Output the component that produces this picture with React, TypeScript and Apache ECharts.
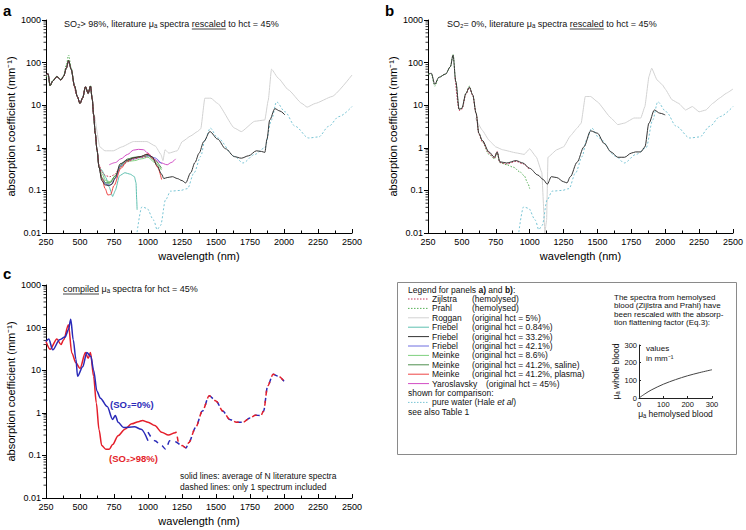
import React, { useEffect, useRef } from 'react';
import * as echarts from 'echarts';

const FONT = '"Liberation Sans", Arial, Helvetica, sans-serif';

// ---------- shared axis ticks ----------
const wlTicks = [250, 500, 750, 1000, 1250, 1500, 1750, 2000, 2250, 2500];
const muDecades = [0.01, 0.1, 1, 10, 100, 1000];

// ---------- panel a : SO2 > 98% ----------
const oxyVisWl = [250, 265, 280, 300, 330, 360, 380, 400, 416, 435, 460, 480, 500, 520, 540, 560, 577, 590, 600, 612, 625, 640];
const oxyVisMu = [50, 55, 29, 37, 47, 39, 48, 75, 112, 70, 28, 16, 11, 15, 27, 19, 28, 14, 6, 2.2, 0.9, 0.35];

const friebel332OxyWl = [660, 685, 710, 735, 760, 795, 850, 893, 940, 992, 1030, 1067, 1100, 1116, 1141, 1180, 1215, 1250, 1277, 1314, 1345, 1376, 1410, 1455, 1512, 1570, 1636, 1686, 1740, 1797, 1835, 1859, 1875, 1895, 1933, 1970, 2007];
const friebel332OxyMu = [0.17, 0.135, 0.13, 0.14, 0.2, 0.42, 0.52, 0.58, 0.62, 0.7, 0.62, 0.38, 0.24, 0.19, 0.2, 0.21, 0.19, 0.17, 0.15, 0.26, 0.45, 0.75, 1.4, 2.4, 1.6, 0.95, 0.62, 0.57, 0.65, 0.85, 0.82, 0.78, 1.6, 4.5, 8.3, 7.3, 5.9];

const friebel421OxyWl = [660, 690, 720, 760, 800, 850, 900, 950, 1000, 1050, 1100];
const friebel421OxyMu = [0.2, 0.14, 0.13, 0.19, 0.38, 0.5, 0.55, 0.6, 0.65, 0.58, 0.42];

const meinke86OxyWl = [660, 690, 720, 760, 800, 850, 900, 950, 1000, 1050, 1100];
const meinke86OxyMu = [0.25, 0.17, 0.16, 0.22, 0.36, 0.48, 0.5, 0.55, 0.6, 0.45, 0.3];

const meinkeSalineOxyWl = [660, 690, 720, 760, 800, 850, 900, 950, 1000, 1050, 1100];
const meinkeSalineOxyMu = [0.19, 0.15, 0.15, 0.22, 0.4, 0.55, 0.6, 0.62, 0.66, 0.5, 0.33];

const meinkePlasmaOxyWl = [660, 685, 705, 725, 750, 800, 850, 900, 950, 1000, 1040, 1070, 1100];
const meinkePlasmaOxyMu = [0.2, 0.11, 0.078, 0.08, 0.13, 0.33, 0.5, 0.58, 0.62, 0.72, 0.55, 0.35, 0.18];

const friebel084OxyWl = [660, 690, 715, 740, 760, 790, 830, 870, 900, 912, 917, 920];
const friebel084OxyMu = [0.3, 0.2, 0.12, 0.072, 0.1, 0.22, 0.26, 0.24, 0.21, 0.15, 0.06, 0.035];

const yaroslavskyOxyWl = [715, 760, 800, 850, 893, 930, 967, 1000, 1042, 1090, 1141, 1170, 1203];
const yaroslavskyOxyMu = [0.4, 0.45, 0.55, 0.7, 0.88, 0.92, 0.9, 0.75, 0.55, 0.45, 0.4, 0.45, 0.55];

const zijlstraOxyWl = [450, 480, 500, 520, 540, 560, 577, 590, 600, 612, 625, 640, 660, 690, 720, 750, 800, 850, 900, 950, 1000];
const zijlstraOxyMu = [38, 16, 11, 15, 27, 19, 28, 14, 6, 2.2, 0.9, 0.4, 0.27, 0.22, 0.21, 0.23, 0.36, 0.47, 0.55, 0.6, 0.62];

const prahlOxyWl = [250, 265, 280, 300, 330, 360, 380, 400, 416, 435, 460, 480, 500, 520, 540, 560, 577, 590, 600, 612, 625, 640, 660, 690, 720, 760, 800, 850, 900, 950, 1000];
const prahlOxyMu = [45, 50, 28, 38, 48, 40, 50, 90, 150, 75, 28, 16, 11, 15, 27, 19, 29, 14, 6, 2.2, 0.9, 0.35, 0.2, 0.15, 0.15, 0.22, 0.38, 0.5, 0.58, 0.62, 0.65];

const rogganOxyWl = [609, 646, 683, 745, 807, 893, 992, 1054, 1095, 1110, 1125, 1153, 1215, 1252, 1314, 1363, 1388, 1418, 1463, 1512, 1636, 1686, 1785, 1859, 1884, 1908, 1958, 2032, 2131, 2170, 2230, 2354, 2500];
const rogganOxyMu = [5.4, 1.05, 0.85, 0.85, 1.05, 1.4, 1.4, 1.1, 0.7, 0.5, 0.9, 0.75, 0.85, 1.4, 1.9, 2.4, 2.8, 14.6, 14.6, 11, 2.9, 2.4, 4.2, 4.5, 13, 70, 43, 23, 11, 9, 11, 16, 51];

// pure water (Hale et al)
const waterWl = [920, 955, 992, 1042, 1067, 1092, 1129, 1166, 1240, 1290, 1339, 1388, 1418, 1458, 1512, 1636, 1698, 1785, 1859, 1908, 1945, 2007, 2082, 2181, 2255, 2329, 2403, 2500];
const waterMu = [0.0105, 0.041, 0.038, 0.02, 0.012, 0.015, 0.06, 0.096, 0.1, 0.11, 0.26, 0.63, 1.5, 2.9, 1.7, 0.63, 0.44, 0.7, 1.0, 4.5, 12, 7, 3.2, 1.7, 1.8, 3.2, 5.4, 9.3];

// ---------- panel b : SO2 = 0% ----------
const friebelDeoxyWl = [250, 275, 300, 330, 380, 415, 435, 455, 480, 500, 530, 555, 580, 605, 625, 650, 700, 740, 760, 780, 830, 900, 950, 1000, 1060, 1100, 1130, 1160, 1200, 1250, 1275, 1300, 1350, 1400, 1450, 1500, 1550, 1600, 1650, 1700, 1750, 1780, 1820, 1850, 1880, 1920, 1960, 2000];
const friebelDeoxyMu = [54, 56, 31, 45, 54, 80, 150, 36, 8, 8.5, 19, 26.5, 17.5, 6.5, 2.2, 1.5, 0.8, 0.6, 0.8, 0.47, 0.44, 0.5, 0.44, 0.33, 0.23, 0.18, 0.14, 0.21, 0.2, 0.16, 0.15, 0.21, 0.46, 1.05, 2.5, 2.2, 1.26, 0.8, 0.6, 0.6, 0.75, 0.8, 0.8, 1.05, 3.8, 7.7, 6.5, 5.9];

const prahlDeoxyWl = [250, 275, 300, 330, 380, 415, 435, 455, 480, 500, 530, 555, 580, 605, 625, 650, 700, 740, 760, 780, 830, 880, 930, 960, 985, 1000];
const prahlDeoxyMu = [54, 52, 28, 45, 54, 80, 155, 36, 8, 8.5, 19, 28, 17.5, 6.5, 2.2, 1.4, 0.7, 0.55, 0.75, 0.45, 0.4, 0.35, 0.27, 0.22, 0.15, 0.11];

const zijlstraDeoxyWl = [450, 480, 500, 530, 555, 580, 605, 625, 650, 700, 740, 760, 780, 830, 900, 950, 1000];
const zijlstraDeoxyMu = [45, 7.5, 8, 18, 26, 17, 6.3, 2.1, 1.4, 0.75, 0.57, 0.82, 0.45, 0.42, 0.48, 0.42, 0.3];

const rogganDeoxyWl = [600, 650, 700, 750, 800, 900, 960, 1000, 1050, 1090, 1105, 1112, 1125, 1135, 1200, 1250, 1300, 1350, 1380, 1410, 1450, 1500, 1600, 1650, 1700, 1770, 1820, 1850, 1880, 1900, 1940, 1980, 2000, 2050, 2100, 2150, 2200, 2250, 2300, 2350, 2400, 2450, 2500];
const rogganDeoxyMu = [5, 2.6, 1.5, 1.05, 0.9, 0.76, 0.7, 0.95, 0.6, 0.26, 0.03, 0.0101, 0.02, 0.6, 0.9, 1.05, 1.9, 2.9, 3.8, 16, 16, 12, 5, 3.5, 3.8, 5, 5, 9.3, 47, 74, 39, 30, 24, 13.4, 11, 7.7, 9.3, 7, 7.7, 11, 14.6, 19, 24];

// ---------- panel c : compiled spectra ----------
const compDeoxySolidWl = [250, 270, 300, 350, 390, 415, 432, 450, 470, 482, 520, 550, 580, 600, 625, 650, 700, 740, 760, 780, 820, 900, 950, 1000];
const compDeoxySolidMu = [47, 54, 30, 52, 60, 89, 158, 52, 18, 7.2, 12, 26, 21, 10, 3.2, 2.2, 1.4, 0.7, 0.87, 0.6, 0.45, 0.47, 0.41, 0.22];
const compDeoxyDashWl = [1000, 1050, 1100, 1130, 1160, 1200, 1250, 1280, 1300, 1350, 1400, 1450, 1500, 1550, 1600, 1650, 1700, 1750, 1790, 1830, 1850, 1880, 1920, 1960, 2000];
const compDeoxyDashMu = [0.35, 0.22, 0.17, 0.14, 0.22, 0.21, 0.17, 0.15, 0.2, 0.45, 1.1, 2.5, 1.9, 1.1, 0.7, 0.6, 0.6, 0.76, 0.88, 0.86, 1.1, 4.3, 8, 7.2, 5.5];
const compOxySolidWl = [250, 280, 330, 360, 380, 415, 440, 470, 500, 540, 560, 577, 600, 620, 640, 660, 690, 715, 740, 780, 830, 880, 930, 960, 1000, 1050, 1100, 1150, 1200, 1210];
const compOxySolidMu = [47, 31, 54, 40, 52, 116, 25, 15, 11, 26, 19, 26, 7.2, 1.7, 0.4, 0.17, 0.14, 0.14, 0.18, 0.29, 0.41, 0.55, 0.62, 0.66, 0.6, 0.5, 0.35, 0.3, 0.34, 0.36];
const compOxyDashWl = [1210, 1225, 1250, 1280, 1300, 1350, 1400, 1450, 1500, 1550, 1600, 1650, 1700, 1750, 1790, 1830, 1850, 1880, 1920, 1960, 2000];
const compOxyDashMu = [0.36, 0.2, 0.17, 0.15, 0.2, 0.45, 1.1, 2.5, 1.9, 1.1, 0.7, 0.6, 0.6, 0.76, 0.88, 0.86, 1.1, 4.3, 8, 7.2, 5.5];

// ---------- inset : absorption flattening ----------
const insetHemolysed = [0, 25, 50, 100, 150, 200, 250, 300];
const insetWhole = [0, 24, 45, 78, 104, 126, 144, 160];
const insetTicks = [0, 100, 200, 300];

// ---------- legend ----------
const legendNames = ['Zijlstra', 'Prahl', 'Roggan', 'Friebel', 'Friebel', 'Friebel', 'Meinke', 'Meinke', 'Meinke', 'Yaroslavsky'];
const legendNotes = ['(hemolysed)', '(hemolysed)', '(original hct = 5%)', '(original hct = 0.84%)', '(original hct = 33.2%)', '(original hct = 42.1%)', '(original hct = 8.6%)', '(original hct = 41.2%, saline)', '(original hct = 41.2%, plasma)', '(original hct = 45%)'];
const noteLines = ['The spectra from hemolysed', 'blood (Zijlstra and Prahl) have', 'been rescaled with the absorp-', 'tion flattening factor (Eq.3):'];

const C = {
  zijlstra: '#c8365a',
  prahl: '#58b058',
  roggan: '#d2d2d2',
  friebel084: '#5ec0b0',
  friebel332: '#333333',
  friebel421: '#6f6fe0',
  meinke86: '#7fd07f',
  meinkeSaline: '#4f8f4f',
  meinkePlasma: '#ee4444',
  yaroslavsky: '#d24cc4',
  water: '#78c4d4',
  compBlue: '#2a2ab8',
  compRed: '#e41e2a',
};
const TEXT = '#111111';
const legendColors = [C.zijlstra, C.prahl, C.roggan, C.friebel084, C.friebel332, C.friebel421, C.meinke86, C.meinkeSaline, C.meinkePlasma, C.yaroslavsky];
const legendDotted = [true, true, false, false, false, false, false, false, false, false];

const zip = (wl: number[], mu: number[]) => wl.map((w, i) => [w, mu[i]]);

function measure(text: string, size: number, weight = 'normal') {
  const c = document.createElement('canvas').getContext('2d');
  if (!c) return text.length * size * 0.5;
  c.font = `${weight} ${size}px ${FONT}`;
  return c.measureText(text).width;
}

function lineSeries(grid: number, wl: number[], mu: number[], color: string, opt: any = {}) {
  return {
    type: 'line',
    xAxisIndex: grid,
    yAxisIndex: grid,
    data: zip(wl, mu),
    symbol: 'none',
    showSymbol: false,
    smooth: opt.smooth ?? 0.3,
    smoothMonotone: 'x',
    silent: true,
    clip: true,
    z: opt.z ?? 2,
    lineStyle: { color, width: opt.width ?? 1, type: opt.type ?? 'solid', dashOffset: opt.dashOffset ?? 0 },
  };
}

function minorTickSeries(grid: number) {
  const vals: number[][] = [];
  for (let d = -2; d < 3; d++) {
    for (let k = 2; k < 10; k++) vals.push([250, k * Math.pow(10, d)]);
  }
  return {
    type: 'custom',
    xAxisIndex: grid,
    yAxisIndex: grid,
    data: vals,
    silent: true,
    clip: false,
    renderItem: (_p: any, api: any) => {
      const pt = api.coord([api.value(0), api.value(1)]);
      return {
        type: 'line',
        shape: { x1: pt[0] - 2.5, y1: pt[1], x2: pt[0], y2: pt[1] },
        style: { stroke: '#000', lineWidth: 0.8 },
      };
    },
  };
}

function mainX(grid: number) {
  return {
    type: 'value',
    gridIndex: grid,
    min: 250,
    max: 2500,
    interval: 250,
    name: 'wavelength (nm)',
    nameLocation: 'middle',
    nameGap: 17,
    nameTextStyle: { fontFamily: FONT, fontSize: 11, color: '#000' },
    axisLine: { lineStyle: { color: '#000', width: 1 } },
    axisTick: { inside: true, length: 4, lineStyle: { color: '#000' } },
    minorTick: { show: true, splitNumber: 2, length: 2.5, lineStyle: { color: '#000' } },
    splitLine: { show: false },
    axisLabel: {
      fontFamily: FONT, fontSize: 9, color: '#000', margin: 4,
      formatter: (v: number) => (wlTicks.includes(v) ? String(v) : ''),
    },
  };
}

function mainY(grid: number) {
  return {
    type: 'log',
    gridIndex: grid,
    logBase: 10,
    min: muDecades[0],
    max: muDecades[muDecades.length - 1],
    splitNumber: 5,
    name: 'absorption coefficient (mm⁻¹)',
    nameLocation: 'middle',
    nameGap: 30,
    nameTextStyle: { fontFamily: FONT, fontSize: 11, color: '#000' },
    axisLine: { show: true, lineStyle: { color: '#000', width: 1 } },
    axisTick: { show: true, inside: false, length: 4, lineStyle: { color: '#000' } },
    splitLine: { show: false },
    axisLabel: {
      fontFamily: FONT, fontSize: 9, color: '#000', margin: 5,
      formatter: (v: number) => {
        const m = muDecades.find((d) => Math.abs(Math.log10(d) - Math.log10(v)) < 1e-6);
        return m === undefined ? '' : String(m);
      },
    },
  };
}

function titleWithUnderline(x: number, y: number, pre: string, under: string, post: string, size: number) {
  const full = pre + under + post;
  const x0 = x + measure(pre, size);
  const x1 = x0 + measure(under, size);
  return [
    { type: 'text', x, y, z: 20, style: { text: full, font: `${size}px ${FONT}`, fill: TEXT, verticalAlign: 'middle' } },
    { type: 'line', shape: { x1: x0, y1: y + 5, x2: x1, y2: y + 5 }, style: { stroke: TEXT, lineWidth: 0.8 } },
  ];
}

function txt(x: number, y: number, text: string, size: number) {
  return {
    type: 'text', x, y, z: 20,
    style: { text, font: `${size}px ${FONT}`, fill: TEXT, verticalAlign: 'middle' },
  };
}

export default function App() {
  const ref = useRef<HTMLDivElement>(null);
  useEffect(() => {
    if (!ref.current) return;
    document.body.style.margin = '0';
    const chart = echarts.init(ref.current, undefined, { renderer: 'svg' });

    const series: any[] = [
      // panel a
      lineSeries(0, rogganOxyWl, rogganOxyMu, C.roggan, { smooth: 0.15 }),
      lineSeries(0, waterWl, waterMu, C.water, { type: [2, 2] }),
      lineSeries(0, oxyVisWl.concat(friebel084OxyWl), oxyVisMu.concat(friebel084OxyMu), C.friebel084, { smooth: 0.15 }),
      lineSeries(0, yaroslavskyOxyWl, yaroslavskyOxyMu, C.yaroslavsky),
      lineSeries(0, oxyVisWl.concat(meinke86OxyWl), oxyVisMu.concat(meinke86OxyMu), C.meinke86),
      lineSeries(0, oxyVisWl.concat(meinkeSalineOxyWl), oxyVisMu.concat(meinkeSalineOxyMu), C.meinkeSaline),
      lineSeries(0, oxyVisWl.concat(friebel421OxyWl), oxyVisMu.concat(friebel421OxyMu), C.friebel421),
      lineSeries(0, oxyVisWl.concat(meinkePlasmaOxyWl), oxyVisMu.concat(meinkePlasmaOxyMu), C.meinkePlasma),
      lineSeries(0, prahlOxyWl, prahlOxyMu, C.prahl, { type: [1.5, 1.5] }),
      lineSeries(0, zijlstraOxyWl, zijlstraOxyMu, C.zijlstra, { type: [1.5, 1.5] }),
      lineSeries(0, oxyVisWl.concat(friebel332OxyWl), oxyVisMu.concat(friebel332OxyMu), C.friebel332, { z: 3 }),
      minorTickSeries(0),
      // panel b
      lineSeries(1, rogganDeoxyWl, rogganDeoxyMu, C.roggan, { smooth: 0.1 }),
      lineSeries(1, waterWl, waterMu, C.water, { type: [2, 2] }),
      lineSeries(1, prahlDeoxyWl, prahlDeoxyMu, C.prahl, { type: [1.5, 1.5] }),
      lineSeries(1, zijlstraDeoxyWl, zijlstraDeoxyMu, C.zijlstra, { type: [1.5, 1.5] }),
      lineSeries(1, friebelDeoxyWl, friebelDeoxyMu, C.friebel332, { z: 3 }),
      minorTickSeries(1),
      // panel c
      lineSeries(2, compOxySolidWl, compOxySolidMu, C.compRed, { width: 1.5 }),
      lineSeries(2, compDeoxySolidWl, compDeoxySolidMu, C.compBlue, { width: 1.5 }),
      lineSeries(2, compDeoxyDashWl, compDeoxyDashMu, C.compBlue, { width: 1.5, type: [5, 5] }),
      lineSeries(2, compOxyDashWl, compOxyDashMu, C.compRed, { width: 1.5, type: [5, 5], dashOffset: 5 }),
      minorTickSeries(2),
      // inset
      {
        type: 'line', xAxisIndex: 3, yAxisIndex: 3, data: zip(insetHemolysed, insetWhole),
        symbol: 'none', smooth: 0.3, silent: true, lineStyle: { color: '#444', width: 1 },
      },
    ];

    // legend: box and sample lines first, all texts afterwards
    const FS = 8.5;
    const headerY = 289.5;
    const legendTop = 299;
    const rowH = 9.4;
    const legendShapes: any[] = [
      { type: 'rect', shape: { x: 397.5, y: 282.5, width: 339, height: 172 }, style: { fill: '#fff', stroke: '#8a8a8a', lineWidth: 1 }, z: 0 },
    ];
    const legendTexts: any[] = [
      {
        type: 'text', x: 408, y: headerY, z: 20,
        style: {
          text: '{n|Legend for panels }{b|a)}{n| and }{b|b)}{n|:}',
          verticalAlign: 'middle', fill: TEXT,
          rich: {
            n: { fontFamily: FONT, fontSize: FS, fill: TEXT },
            b: { fontFamily: FONT, fontSize: FS, fontWeight: 'bold', fill: TEXT },
          },
        },
      },
    ];
    legendNames.forEach((nm, i) => {
      const y = legendTop + i * rowH;
      legendShapes.push({
        type: 'line', z: 5, shape: { x1: 408, y1: y, x2: 429, y2: y },
        style: { stroke: legendColors[i], lineWidth: 1, lineDash: legendDotted[i] ? [1.5, 1.5] : null },
      });
      legendTexts.push(txt(432, y, nm, FS));
      legendTexts.push(txt(i === 9 ? 486 : 472, y, legendNotes[i], FS));
    });
    const yCmp = legendTop + 10 * rowH;
    legendTexts.push(txt(408, yCmp, 'shown for comparison:', FS));
    legendShapes.push({ type: 'line', z: 5, shape: { x1: 408, y1: yCmp + rowH, x2: 429, y2: yCmp + rowH }, style: { stroke: C.water, lineWidth: 1, lineDash: [1.5, 1.5] } });
    legendTexts.push({
      type: 'text', x: 432, y: yCmp + rowH, z: 20,
      style: {
        text: '{n|pure water (Hale }{i|et al}{n|)}', verticalAlign: 'middle', fill: TEXT,
        rich: {
          n: { fontFamily: FONT, fontSize: FS, fill: TEXT },
          i: { fontFamily: FONT, fontSize: FS, fontStyle: 'italic', fill: TEXT },
        },
      },
    });
    legendTexts.push(txt(408, yCmp + 2 * rowH, 'see also Table 1', FS));

    // inset note
    noteLines.forEach((t, i) => {
      legendTexts.push(txt(614, 297 + i * 8.6, t, 8));
    });
    legendTexts.push(txt(646, 348, 'values', 8));
    legendTexts.push(txt(646, 358, 'in mm⁻¹', 8));

    const graphics: any[] = [
      ...legendShapes,
      ...legendTexts,
      { type: 'text', x: 3, y: 10, style: { text: 'a', font: `bold 15px ${FONT}`, fill: '#000', verticalAlign: 'middle' } },
      { type: 'text', x: 385, y: 10, style: { text: 'b', font: `bold 15px ${FONT}`, fill: '#000', verticalAlign: 'middle' } },
      { type: 'text', x: 3, y: 273, style: { text: 'c', font: `bold 15px ${FONT}`, fill: '#000', verticalAlign: 'middle' } },
      ...titleWithUnderline(64, 24, 'SO₂> 98%, literature μₐ spectra ', 'rescaled', ' to hct = 45%', 9),
      ...titleWithUnderline(447, 24, 'SO₂= 0%, literature μₐ spectra ', 'rescaled', ' to hct = 45%', 9),
      ...titleWithUnderline(63, 289, '', 'compiled', ' μₐ spectra for hct = 45%', 9),
      { type: 'text', x: 110, y: 404, style: { text: '(SO₂=0%)', font: `bold 9.5px ${FONT}`, fill: C.compBlue, verticalAlign: 'middle' } },
      { type: 'text', x: 109, y: 458, style: { text: '(SO₂>98%)', font: `bold 9.5px ${FONT}`, fill: C.compRed, verticalAlign: 'middle' } },
      txt(180, 475.5, 'solid lines: average of N literature spectra', 8.5),
      txt(180, 487, 'dashed lines: only 1 spectrum included', 8.5),
    ];

    const insetAxisCommon = {
      min: 0, max: 300, interval: 100,
      nameLocation: 'middle',
      nameTextStyle: { fontFamily: FONT, fontSize: 8.5, color: TEXT },
      axisLine: { lineStyle: { color: '#222', width: 1 } },
      axisTick: { inside: true, length: 2, lineStyle: { color: '#222' } },
      splitLine: { show: false },
      axisLabel: { fontFamily: FONT, fontSize: 7.5, color: TEXT, margin: 2, formatter: (v: number) => (insetTicks.includes(v) ? String(v) : '') },
    };

    chart.setOption({
      animation: false,
      backgroundColor: '#fff',
      textStyle: { fontFamily: FONT },
      grid: [
        { left: 46, top: 20, width: 306, height: 213 },
        { left: 428, top: 20, width: 307, height: 213 },
        { left: 46, top: 285, width: 306, height: 213 },
        { left: 639, top: 345, width: 73, height: 53 },
      ],
      xAxis: [mainX(0), mainX(1), mainX(2), { ...insetAxisCommon, type: 'value', gridIndex: 3, name: 'μₐ hemolysed blood', nameGap: 11 }],
      yAxis: [mainY(0), mainY(1), mainY(2), { ...insetAxisCommon, type: 'value', gridIndex: 3, name: 'μₐ whole blood', nameGap: 16 }],
      series,
      graphic: graphics,
    });
    return () => chart.dispose();
  }, []);
  return <div ref={ref} style={{ position: 'fixed', left: 0, top: 0, width: 746, height: 530 }} />;
}
